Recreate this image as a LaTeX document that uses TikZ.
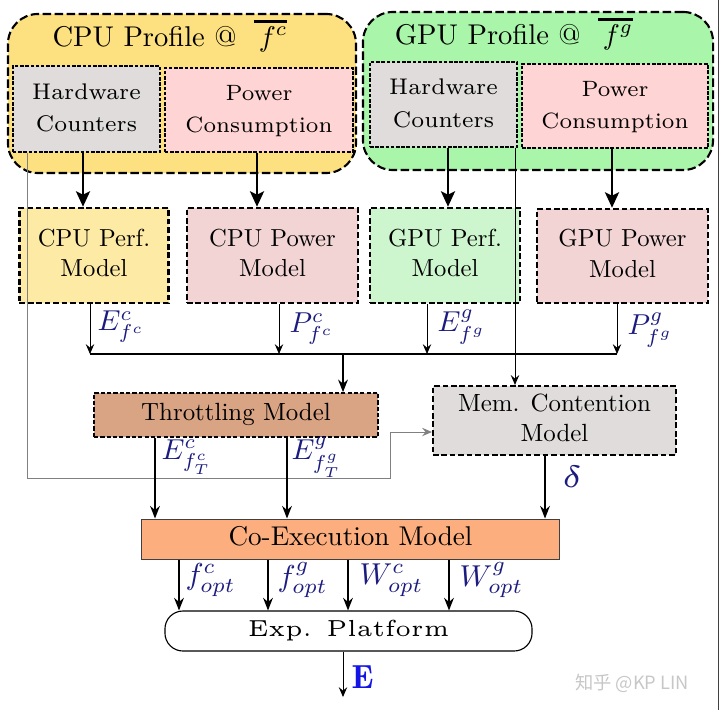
\documentclass[tikz,border=0pt]{standalone}
\usepackage{fontspec}
\usepackage{graphicx}
\usetikzlibrary{arrows.meta}

\newfontfamily\zhfont{Noto Sans CJK SC}

\definecolor{cpuyellow}{RGB}{253,224,128}
\definecolor{gpugreen}{RGB}{169,245,169}
\definecolor{hwgray}{RGB}{224,220,220}
\definecolor{powpink}{RGB}{255,212,212}
\definecolor{perfyellow}{RGB}{253,234,164}
\definecolor{modpink}{RGB}{242,212,212}
\definecolor{perfgreen}{RGB}{206,246,206}
\definecolor{throtbrown}{RGB}{217,164,132}
\definecolor{coexorange}{RGB}{252,174,126}
\definecolor{labelblue}{RGB}{28,28,128}
\definecolor{outblue}{RGB}{20,20,230}

% text set at a small design size, then blown up
\newcommand{\boxtext}[4]{\scalebox{#3}{\fontsize{#1}{#2}\selectfont\begin{tabular}{@{}c@{}}#4\end{tabular}}}
\newcommand{\mlabel}[3]{\scalebox{#2}{\fontsize{#1}{#1}\selectfont$#3$}}
\newcommand{\thickbar}[1]{\vbox{\hrule height 1.1pt\kern1.2pt\hbox{$#1$}}}

\begin{document}
\begin{tikzpicture}[x=0.025cm, y=-0.025cm,
  profile/.style={draw, line width=1.5pt, dash pattern=on 6pt off 2.5pt, rounded corners=0.75cm, inner sep=0pt},
  srcbox/.style={draw, line width=0.8pt, dash pattern=on 2.5pt off 1.2pt, inner sep=0pt},
  modelbox/.style={draw, line width=1.8pt, dash pattern=on 4pt off 2pt, inner sep=0pt},
  bigarrow/.style={line width=1.8pt, -{Stealth[length=11pt,width=10pt,inset=2.5pt]}},
  thinarrow/.style={line width=0.6pt, -{Stealth[length=7pt,width=6pt,inset=2.5pt]}},
  midarrow/.style={line width=1pt, -{Stealth[length=9pt,width=7pt,inset=3pt]}},
  value/.style={text=labelblue, anchor=west, inner sep=1pt}]

\useasboundingbox (0,0) rectangle (720,710);

% The frame line on the right
\draw[line width=0.7pt, color=darkgray] (718.5,0) -- (718.5,710);

% The profiles
\node[profile, fill=cpuyellow, minimum width=8.7cm, minimum height=3.975cm] (cpuprof) at (182,93.5) {};
\node[profile, fill=gpugreen, minimum width=8.75cm, minimum height=3.95cm] (gpuprof) at (538,91) {};
\node (cputitle) at (170,38) {\boxtext{10}{12}{2.03}{CPU Profile @ \;\thickbar{\,f^c}}};
\node (gputitle) at (514,36) {\boxtext{10}{12}{2.03}{GPU Profile @ \;\thickbar{\,f^g}}};

% The measurements
\node[srcbox, fill=hwgray, minimum width=3.675cm, minimum height=2.15cm] (cpuhc) at (86.5,109) {\boxtext{7}{10}{2.3}{Hardware\\Counters}};
\node[srcbox, fill=powpink, minimum width=4.7cm, minimum height=2.1cm] (cpupow) at (259,110) {\boxtext{7}{10}{2.25}{Power\\Consumption}};
\node[srcbox, fill=hwgray, minimum width=3.675cm, minimum height=2.125cm] (gpuhc) at (443.5,104.5) {\boxtext{7}{10}{2.3}{Hardware\\Counters}};
\node[srcbox, fill=powpink, minimum width=4.65cm, minimum height=2.1cm] (gpupow) at (615,106) {\boxtext{7}{10}{2.25}{Power\\Consumption}};

% The models
\node[modelbox, fill=perfyellow, minimum width=3.725cm, minimum height=2.375cm] (cpuperf) at (94,255.5) {\boxtext{10}{12.2}{1.75}{CPU Perf.\\Model}};
\node[modelbox, fill=modpink, minimum width=4.275cm, minimum height=2.375cm] (cpupowm) at (272.5,255.5) {\boxtext{10}{12.2}{1.75}{CPU Power\\Model}};
\node[modelbox, fill=perfgreen, minimum width=3.75cm, minimum height=2.375cm] (gpuperf) at (445,255.5) {\boxtext{10}{12.2}{1.75}{GPU Perf.\\Model}};
\node[modelbox, fill=modpink, minimum width=4.275cm, minimum height=2.35cm] (gpupowm) at (622.5,256) {\boxtext{10}{12.2}{1.75}{GPU Power\\Model}};

\node[draw, line width=1.2pt, dash pattern=on 3pt off 1.5pt, fill=throtbrown, inner sep=0pt, minimum width=7.1cm, minimum height=1.1cm] (throt) at (236,415) {\boxtext{10}{12}{1.77}{Throttling Model}};
\node[modelbox, line width=1.5pt, fill=hwgray, minimum width=6.075cm, minimum height=1.725cm] (mem) at (554.5,420.5) {\boxtext{10}{12}{1.77}{Mem. Contention\\Model}};
\node[draw, line width=0.7pt, color=darkgray, fill=coexorange, text=black, inner sep=0pt, minimum width=10.425cm, minimum height=1cm] (coex) at (350.5,539) {\boxtext{10}{12}{1.93}{Co-Execution Model}};
\node[draw, line width=0.8pt, fill=white, rounded corners=0.45cm, inner sep=0pt, minimum width=9.175cm, minimum height=1cm] (plat) at (348.5,631) {\boxtext{5}{6}{3.3}{Exp. Platform}};

% The measurements into the models
\draw[bigarrow] (cpuhc.south -| 83,0) -- (cpuperf.north -| 83,0);
\draw[bigarrow] (cpupow.south -| 257,0) -- (cpupowm.north -| 257,0);
\draw[bigarrow] (gpuhc.south -| 448,0) -- (gpuperf.north -| 448,0);
\draw[bigarrow] (gpupow.south -| 612,0) -- (gpupowm.north -| 612,0);

% The bus
\coordinate (b1) at (90,354);
\coordinate (b2) at (279,354);
\coordinate (b3) at (427,354);
\coordinate (b4) at (617,354);
\coordinate (bt) at (343,354);
\draw[thinarrow] (cpuperf.south -| b1) -- (b1);
\draw[thinarrow] (cpupowm.south -| b2) -- (b2);
\draw[thinarrow] (gpuperf.south -| b3) -- (b3);
\draw[thinarrow] (gpupowm.south -| b4) -- (b4);
\draw[line width=1.8pt] (b1) -- (b4);
\draw[midarrow, line width=0.8pt] (bt) -- (throt.north -| bt);

% The counters feeding the contention model
\coordinate (c1) at (27,478);
\coordinate (c2) at (390,478);
\draw[line width=0.6pt, color=gray, -{Stealth[length=7pt,width=6pt,inset=2.5pt]}] (cpuhc.south -| c1) -- (c1) -- (c2) -- (c2 |- 0,432) -- (mem.west |- 0,432);
\draw[thinarrow, line width=0.7pt] (gpuhc.south -| 515,0) -- (mem.north -| 515,0);

% Into the co-execution model
\draw[midarrow] (throt.south -| 155,0) -- (coex.north -| 155,0);
\draw[midarrow] (throt.south -| 287,0) -- (coex.north -| 287,0);
\draw[midarrow] (mem.south -| 545,0) -- (coex.north -| 545,0);

% Out of the co-execution model
\foreach \x in {179,268,348,449}
  \draw[midarrow, line width=0.9pt] (coex.south -| \x,0) -- (plat.north -| \x,0);
\coordinate (eout) at (343,697);
\draw[thinarrow, line width=0.7pt] (plat.south -| eout) -- (eout);

% The labels
\node[value] (lecf) at (96,327) {\mlabel{10}{2.05}{E^c_{f^c}}};
\node[value] (lpcf) at (288,329) {\mlabel{10}{2.05}{P^c_{f^c}}};
\node[value] (legf) at (436,327) {\mlabel{10}{2.05}{E^g_{f^g}}};
\node[value] (lpgf) at (626,330) {\mlabel{10}{2.05}{P^g_{f^g}}};
\node[value] (lect) at (160,457) {\mlabel{10}{2.05}{E^c_{f^c_T}}};
\node[value] (legt) at (290,457) {\mlabel{10}{2.05}{E^g_{f^g_T}}};
\node[value] (ldel) at (560,477) {\mlabel{5}{4.4}{\delta}};
\node[value] (lfc) at (184,580) {\mlabel{10}{2.15}{f^c_{opt}}};
\node[value] (lfg) at (276,580) {\mlabel{10}{2.15}{f^g_{opt}}};
\node[value] (lwc) at (358,580) {\mlabel{10}{2.15}{W^c_{opt}}};
\node[value] (lwg) at (458,580) {\mlabel{10}{2.15}{W^g_{opt}}};
\node[value, text=outblue] (le) at (350,677) {\mlabel{7}{3.4}{\mathbf{E}}};

% The watermark
\node[text=black!22] (mark) at (632,683) {\zhfont\fontsize{13}{15}\selectfont 知乎 @KP LIN};

\end{tikzpicture}
\end{document}
